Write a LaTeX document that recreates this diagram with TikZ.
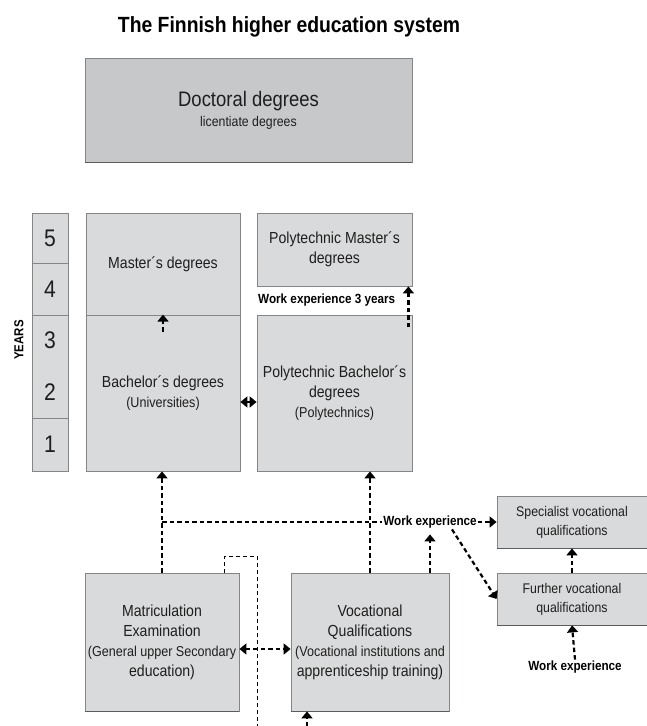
\documentclass[tikz,border=0pt]{standalone}
\usepackage{fontspec}
\setmainfont{Liberation Sans}[FakeStretch=0.88]
\usetikzlibrary{positioning,calc,arrows.meta}
\definecolor{boxfill}{HTML}{D9DADC}
\definecolor{docfill}{HTML}{C7C8CA}
\definecolor{edgegray}{HTML}{858585}
\definecolor{edgedark}{HTML}{5C5C5C}
\definecolor{inkblack}{HTML}{1E1E1E}
\newcommand{\smalltxt}{\fontsize{14.3}{19.5}\selectfont}

\begin{document}
\begin{tikzpicture}[x=1pt,y=-1pt,
  box/.style={rectangle,draw=edgegray,line width=0.8pt,fill=boxfill,align=center,inner sep=2pt,text=inkblack,font=\fontsize{16}{20}\selectfont},
  yrcell/.style={box,minimum width=36pt,inner sep=0pt,font=\fontsize{24}{52}\selectfont},
  wlabel/.style={inner sep=1pt,text=black,font=\bfseries\fontsize{13.3}{15}\selectfont},
  arr/.style={line width=2.2pt,dash pattern=on 4.5pt off 3pt,-{Triangle[width=11pt,length=7pt]}},
  darr/.style={arr,{Triangle[width=11pt,length=7pt]}-{Triangle[width=11pt,length=7pt]}},
  link/.style={line width=2.2pt,dash pattern=on 4.5pt off 3pt},
  guide/.style={line width=0.8pt,dash pattern=on 4pt off 3pt},
  baseline/.style={line width=1.6pt,draw=edgedark}]
\useasboundingbox (0,0) rectangle (647,726);

\node (title) at (289,27) [font=\bfseries\fontsize{22}{25}\selectfont] {The Finnish higher education system};
\node[box,fill=docfill,minimum width=327pt,minimum height=104pt] (doc) at (248.5,110) {\fontsize{21}{24}\selectfont Doctoral degrees\\\fontsize{14}{21}\selectfont licentiate degrees};

\node[yrcell,minimum height=50pt] (yr5) at (50,238) {5};
\node[yrcell,minimum height=52pt] (yr4) at (50,289) {4};
\node[yrcell,minimum height=103pt] (yr32) at (50,366.5) {3\\2};
\node[yrcell,minimum height=53pt] (yr1) at (50,444.5) {1};
\node (years) at (19,340) [rotate=90,font=\bfseries\fontsize{13}{15}\selectfont] {YEARS};

\node[box,minimum width=154pt,minimum height=102pt] (master) at (163,264) {Master´s degrees};
\node[box,minimum width=154pt,minimum height=156pt] (bachelor) at (163,393) {Bachelor´s degrees\\\smalltxt(Universities)};
\node[box,minimum width=155pt,minimum height=73pt] (pmaster) at (334.5,249.5) {Polytechnic Master´s\\degrees};
\node[box,minimum width=155pt,minimum height=156pt] (pbach) at (334.5,393) {Polytechnic Bachelor´s\\degrees\\\smalltxt(Polytechnics)};
\node[wlabel,anchor=west] (work3) at (257,300) {Work experience 3 years};

\node[box,minimum width=154pt,minimum height=138pt] (matric) at (162,642) {Matriculation\\Examination\\\smalltxt(General upper Secondary\\education)};
\node[box,minimum width=158pt,minimum height=138pt] (voc) at (370,642) {Vocational\\Qualifications\\\smalltxt(Vocational institutions and\\apprenticeship training)};
\node[box,minimum width=150pt,minimum height=52pt,font=\fontsize{14}{19}\selectfont] (spec) at (572,522) {Specialist vocational\\qualifications};
\node[box,minimum width=150pt,minimum height=52pt,font=\fontsize{14}{19}\selectfont] (further) at (572,599) {Further vocational\\qualifications};
\node[wlabel] (work1) at (430,522) {Work experience};
\node[wlabel] (work2) at (575,667) {Work experience};

\draw[baseline] (doc.south west) -- (doc.south east);
\draw[baseline] (matric.south west) -- (matric.south east);
\draw[baseline] (voc.south west) -- (voc.south east);
\draw[baseline] (spec.south west) -- (spec.south east);
\draw[baseline] (further.south west) -- (further.south east);

\draw[arr] ([yshift=-17pt]bachelor.north) -- (bachelor.north);
\draw[arr] ([xshift=-4pt,yshift=-41pt]pmaster.south east) -- ([xshift=-4pt]pmaster.south east);
\draw[darr] ([yshift=-9pt]bachelor.east) -- ([yshift=-9pt]pbach.west);

\draw[arr] (matric.north) -- (matric.north |- bachelor.south);
\draw[arr] (voc.north) -- (voc.north |- pbach.south);
\draw[link] (matric.north |- work1.west) -- (work1.west);
\draw[arr] (work1.east) -- (spec.west);
\draw[arr] (work1.south |- voc.north) -- ([yshift=-5pt]work1.south);
\draw[arr] ($(work1.south)+(22,0)$) -- (further.west);
\draw[arr] (further.north) -- (spec.south);
\draw[arr] (work2.north) -- (further.south);
\draw[darr] ([yshift=-7pt]matric.east) -- ([yshift=-7pt]voc.west);

\coordinate (bend) at (257,556);
\coordinate (dropend) at (257,726);
\draw[guide] ([xshift=-15pt]matric.north east) |- (bend) -- (dropend);
\coordinate (vocin) at (307,726);
\draw[arr] (vocin) -- (vocin |- voc.south);
\end{tikzpicture}
\end{document}
